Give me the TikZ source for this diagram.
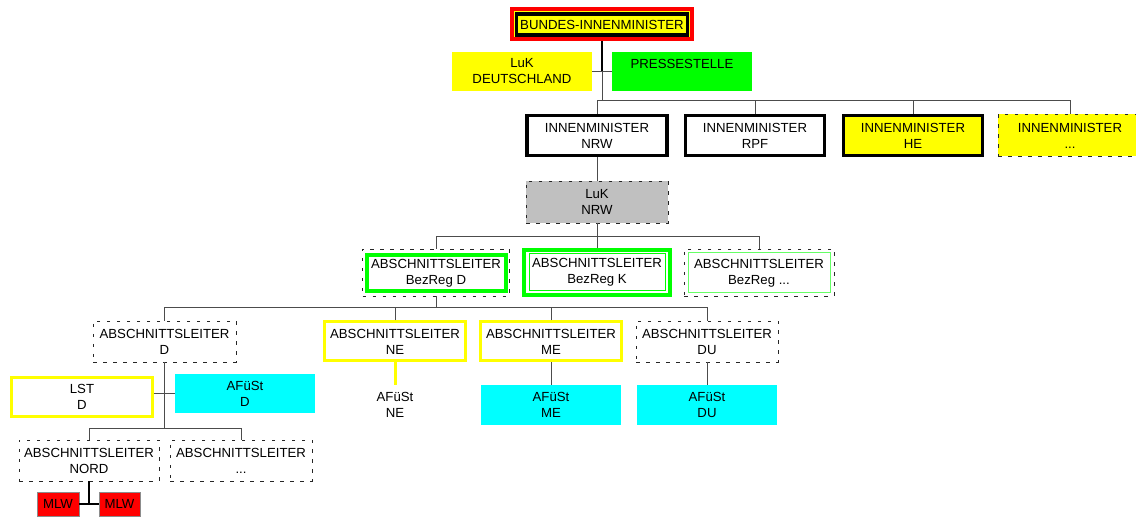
\documentclass[tikz,border=0pt]{standalone}
\usepackage{fontspec}
\setmainfont{Liberation Sans}
\definecolor{cyy}{RGB}{255,255,0}
\definecolor{cgg}{RGB}{0,255,0}
\definecolor{ccc}{RGB}{0,255,255}
\definecolor{crr}{RGB}{255,0,0}
\definecolor{lgreen}{RGB}{102,255,102}
\definecolor{cgrey}{RGB}{192,192,192}
\begin{document}
\begin{tikzpicture}[x=1pt,y=-1pt,
  box/.style={rectangle,inner sep=0pt,align=center,font=\fontsize{13.2}{16}\selectfont},
  thickbox/.style={box,draw=black,line width=3.5pt},
  dbox/.style={box,draw=black!85,line width=0.9pt,dash pattern=on 3.5pt off 6.5pt},
  ybox/.style={box,draw=cyy,line width=3pt,fill=white},
  cbox/.style={box,fill=ccc},
  conn/.style={draw=black!70,line width=1pt},
  connk/.style={draw=black,line width=2pt},
]
\useasboundingbox (0,0) rectangle (1136,518);

% top
\node[box,draw=crr,line width=4pt,fill=cyy,minimum width=180pt,minimum height=30pt] (bimo) at (602,24) {};
\node[box,draw=black,line width=3.5pt,minimum width=171pt,minimum height=21pt] (bim) at (602,24.5) {BUNDES-INNENMINISTER};
\node[box,fill=cyy,minimum width=140pt,minimum height=39pt] (luk) at (522,71.5) {LuK\\DEUTSCHLAND};
\node[box,fill=cgg,minimum width=140pt,minimum height=39pt] (press) at (682,71.5) {PRESSESTELLE\\\mbox{}};
\coordinate (j1) at (602,72);
\coordinate (j2) at (602,101);
\draw[connk] (bimo.south) -- (j1);
\draw[conn] (luk.east |- j1) -- (press.west |- j1);
\draw[conn] (j1) -- (j2);

% level 2
\node[thickbox,minimum width=140pt,minimum height=40pt] (nrw) at (597,135.5) {INNENMINISTER\\NRW};
\node[thickbox,minimum width=139pt,minimum height=40pt] (rpf) at (755,135.5) {INNENMINISTER\\RPF};
\node[thickbox,fill=cyy,minimum width=139pt,minimum height=40pt] (he) at (913,135.5) {INNENMINISTER\\HE};
\node[dbox,fill=cyy,minimum width=144pt,minimum height=42pt] (imx) at (1070,135.5) {INNENMINISTER\\...};
\draw[conn] (nrw.north) -- (nrw.north |- j2) -| (imx.north);
\draw[conn] (rpf.north) -- (rpf.north |- j2);
\draw[conn] (he.north) -- (he.north |- j2);

% LuK NRW
\node[dbox,fill=cgrey,minimum width=142pt,minimum height=42pt] (luknrw) at (597,202) {LuK\\NRW};
\draw[conn] (nrw.south) -- (luknrw.north);

% BezReg
\node[dbox,minimum width=147pt,minimum height=47pt] (bzdo) at (436,272.5) {};
\node[box,draw=cgg,line width=4pt,minimum width=139pt,minimum height=36pt] (bzd) at (436,273) {ABSCHNITTSLEITER\\BezReg D};
\node[box,draw=cgg,line width=4pt,minimum width=146pt,minimum height=45pt] (bzk) at (597,272.5) {};
\node[box,draw=cgg,line width=1pt,minimum width=136pt,minimum height=37pt] (bzki) at (597,272.5) {ABSCHNITTSLEITER\\BezReg K};
\node[dbox,minimum width=150pt,minimum height=47pt] (bzxo) at (759,272.5) {};
\node[box,draw=lgreen,line width=1pt,minimum width=142pt,minimum height=40pt] (bzx) at (759,273) {ABSCHNITTSLEITER\\BezReg ...};
\coordinate (j3) at (597,237);
\draw[conn] (luknrw.south) -- (j3);
\draw[conn] (bzdo.north) -- (bzdo.north |- j3) -| (bzxo.north);
\draw[conn] (j3) -- (bzk.north);

% level 4
\node[dbox,minimum width=143pt,minimum height=41pt] (ald) at (164.5,341.5) {ABSCHNITTSLEITER\\D};
\node[ybox,minimum width=141pt,minimum height=39pt] (alne) at (395,341.5) {ABSCHNITTSLEITER\\NE};
\node[ybox,minimum width=141pt,minimum height=39pt] (alme) at (551,341.5) {ABSCHNITTSLEITER\\ME};
\node[dbox,minimum width=142pt,minimum height=41pt] (aldu) at (707,341.5) {ABSCHNITTSLEITER\\DU};
\coordinate (j4) at (436,308);
\draw[conn] (bzdo.south) -- (j4);
\draw[conn] (ald.north) -- (ald.north |- j4) -| (aldu.north);
\draw[conn] (alne.north) -- (alne.north |- j4);
\draw[conn] (alme.north) -- (alme.north |- j4);

% below D
\node[ybox,minimum width=141pt,minimum height=39pt] (lst) at (82,397) {LST\\D};
\node[cbox,minimum width=140pt,minimum height=39pt] (afd) at (245,393.5) {AFüSt\\D};
\coordinate (j5) at (164.5,394);
\coordinate (j6) at (164.5,429);
\draw[conn] (ald.south) -- (j6);
\draw[conn] (lst.east |- j5) -- (afd.west |- j5);
\node[dbox,minimum width=140pt,minimum height=41pt] (nord) at (89,460.5) {ABSCHNITTSLEITER\\NORD};
\node[dbox,minimum width=142pt,minimum height=41pt] (alx) at (241,460.5) {ABSCHNITTSLEITER\\...};
\draw[conn] (nord.north) -- (nord.north |- j6) -| (alx.north);
\node[box,fill=crr,draw=black!45,line width=0.8pt,minimum width=42pt,minimum height=24pt] (mlw1) at (58,504) {MLW};
\node[box,fill=crr,draw=black!45,line width=0.8pt,minimum width=41pt,minimum height=24pt] (mlw2) at (119.5,504) {MLW};
\coordinate (j7) at (89,504);
\draw[connk] (nord.south) -- (j7);
\draw[connk] (mlw1.east) -- (mlw2.west);

% AFüSt NE / ME / DU
\node[box,minimum width=140pt,minimum height=40pt] (afne) at (395,405) {AFüSt\\NE};
\node[cbox,minimum width=140pt,minimum height=40pt] (afme) at (551,405) {AFüSt\\ME};
\node[cbox,minimum width=140pt,minimum height=40pt] (afdu) at (707,405) {AFüSt\\DU};
\draw[draw=cyy,line width=3pt] (alne.south) -- (afne.north);
\draw[conn] (alme.south) -- (afme.north);
\draw[conn] (aldu.south) -- (afdu.north);
\end{tikzpicture}
\end{document}
